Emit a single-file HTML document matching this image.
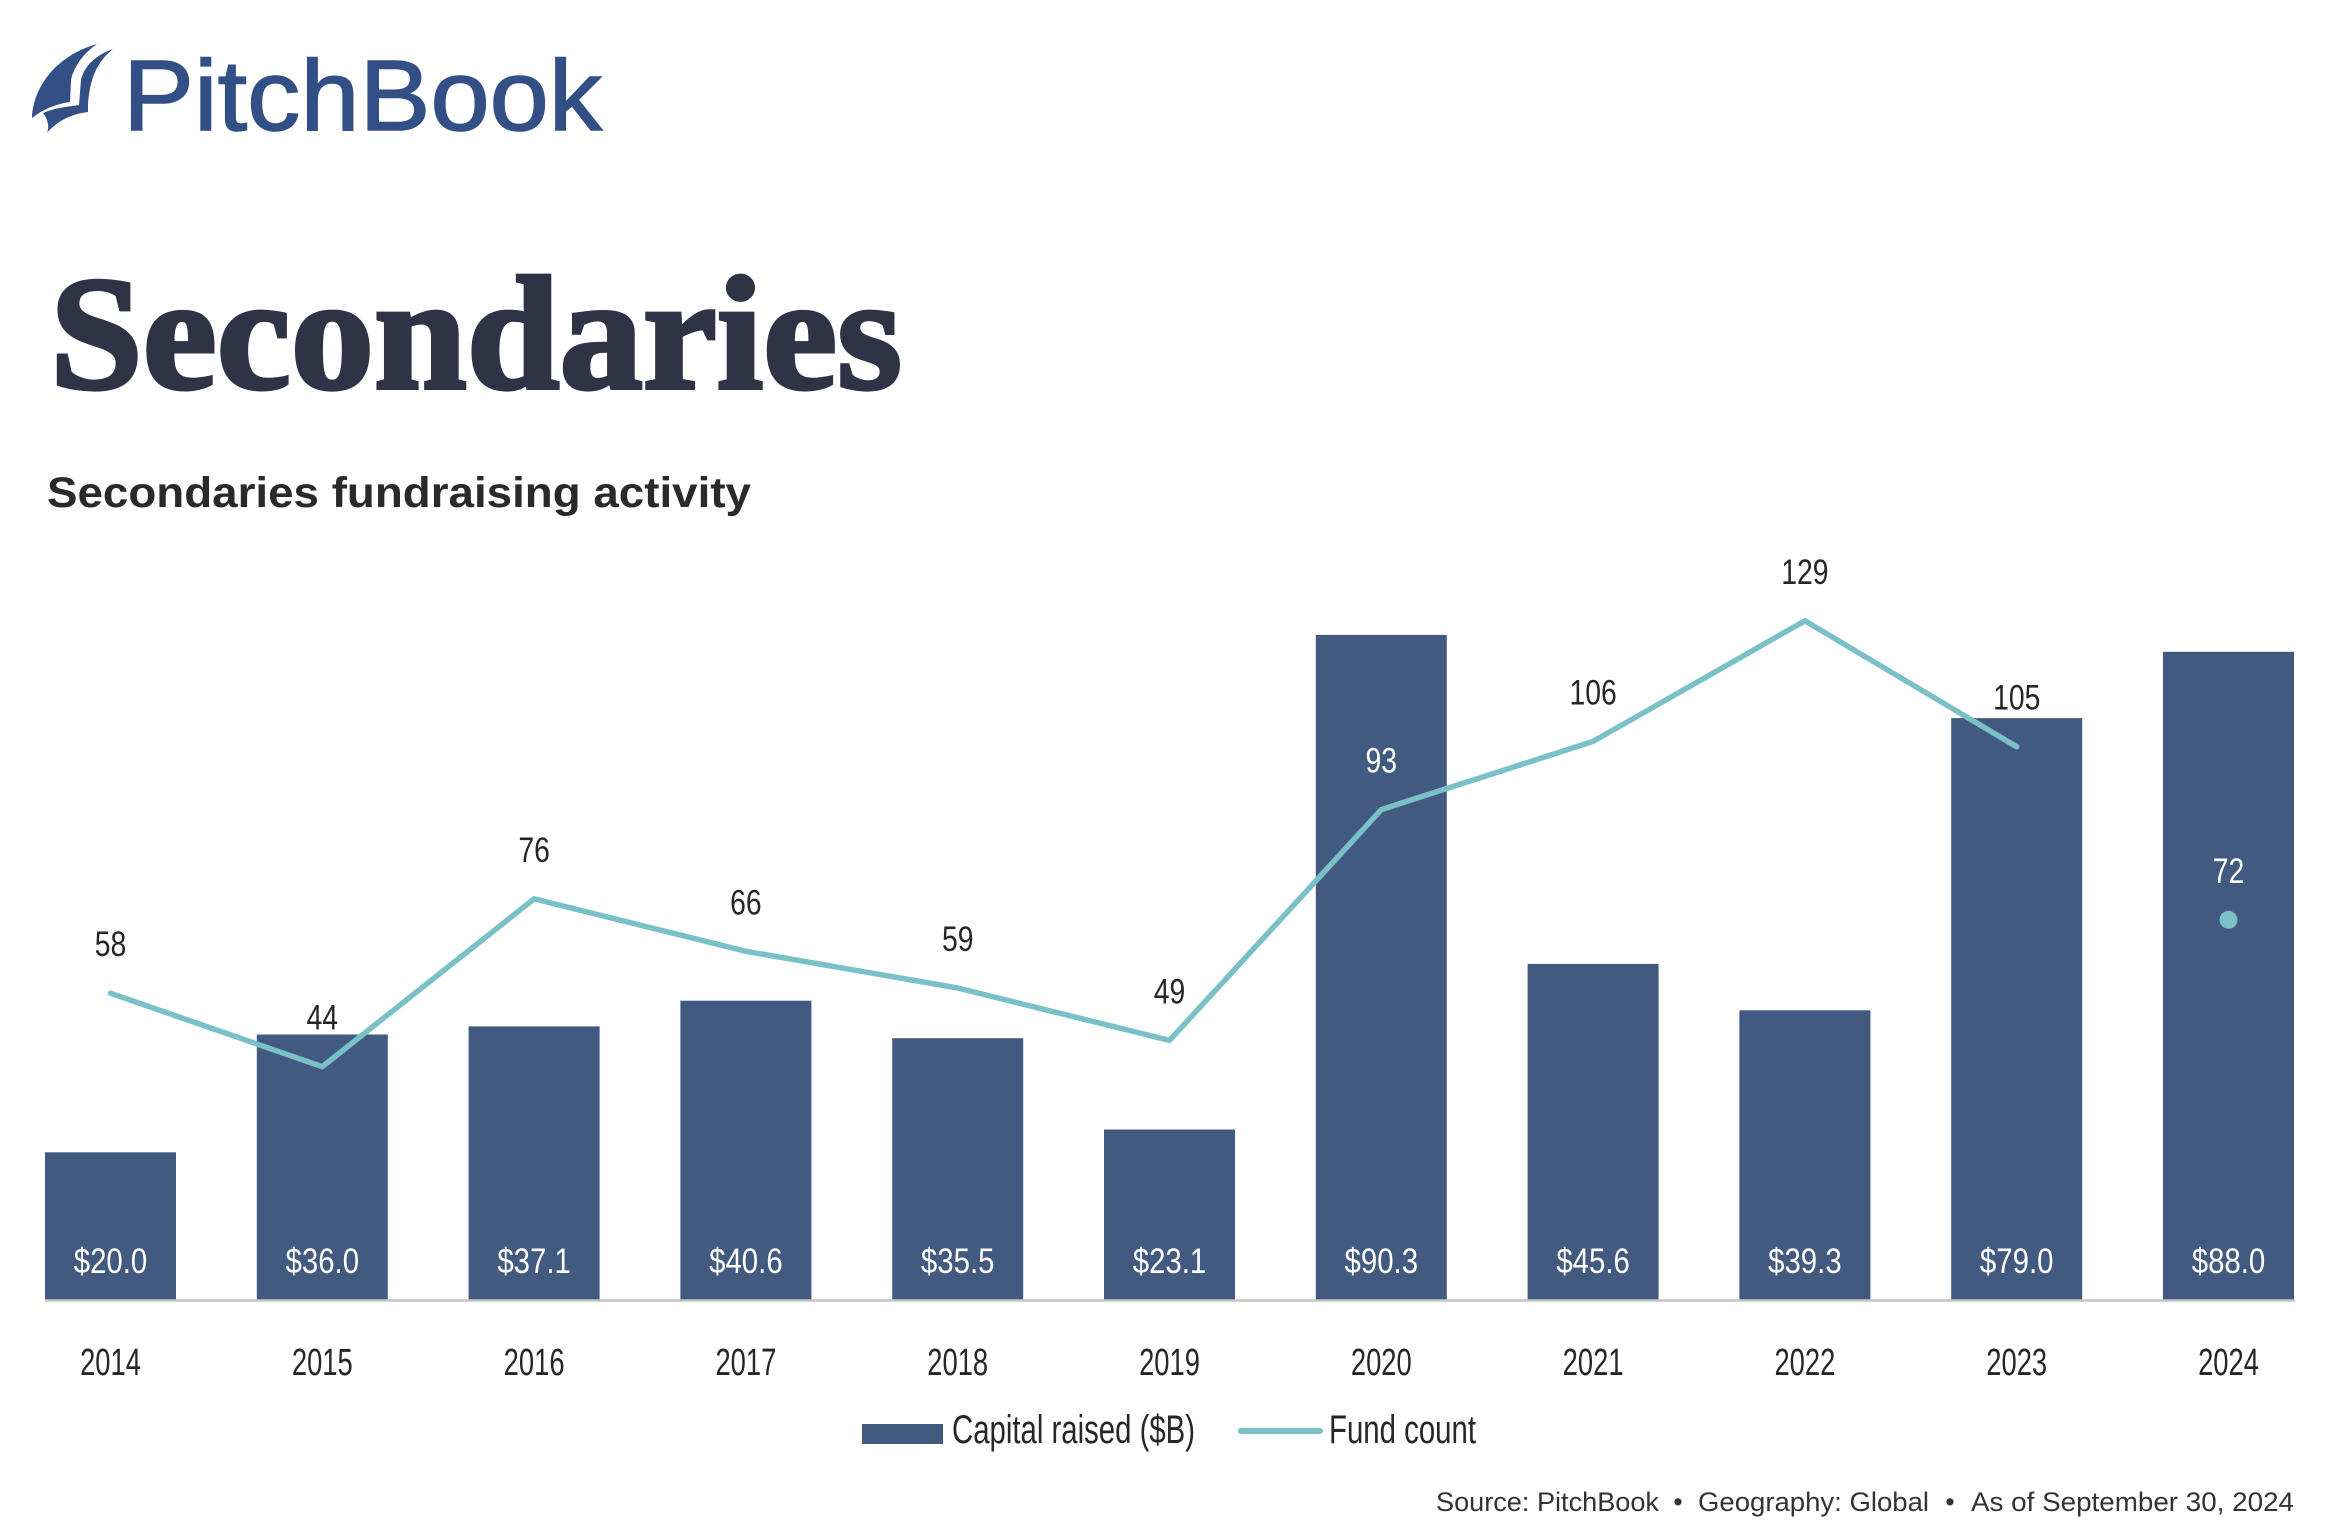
<!DOCTYPE html>
<html>
<head>
<meta charset="utf-8">
<style>
  html,body{margin:0;padding:0;background:#ffffff;}
  body{width:2331px;height:1540px;overflow:hidden;}
  svg{display:block;}
</style>
</head>
<body>
<svg width="2331" height="1540" viewBox="0 0 2331 1540" xmlns="http://www.w3.org/2000/svg">
  <rect x="0" y="0" width="2331" height="1540" fill="#ffffff"/>

  <!-- Logo icon -->
  <g fill="#324F86">
    <path d="M32,118 C33,88 55,56 97,44 C84,53 74,66 71,80 L70,102 C55,104 42,110 32,118 Z"/>
    <path d="M47,133 C50,126 47,118 43,113 C55,108 65,107 79,105 L81,80 C84,66 96,55 113,49 C97,62 90,78 88,104 L88,112 C70,114 56,122 47,133 Z"/>
  </g>
  <!-- Logo text -->
  <text x="123" y="130" font-family="'Liberation Sans', sans-serif" font-size="100" fill="#324F86" stroke="#324F86" stroke-width="1.5" textLength="479" lengthAdjust="spacingAndGlyphs">PitchBook</text>

  <!-- Title -->
  <text x="50" y="388" font-family="'Liberation Serif', serif" font-weight="bold" font-size="162" fill="#2E3346" stroke="#2E3346" stroke-width="4" textLength="852" lengthAdjust="spacingAndGlyphs">Secondaries</text>

  <!-- Subtitle -->
  <text x="47" y="507" font-family="'Liberation Sans', sans-serif" font-weight="bold" font-size="43" fill="#2A2A2A" textLength="704" lengthAdjust="spacingAndGlyphs">Secondaries fundraising activity</text>

  <!-- Bars -->
  <g fill="#435A80">
    <rect x="45.0" y="1152.3" width="131" height="147.2"/>
    <rect x="256.8" y="1034.5" width="131" height="265.0"/>
    <rect x="468.6" y="1026.4" width="131" height="273.1"/>
    <rect x="680.4" y="1000.7" width="131" height="298.8"/>
    <rect x="892.2" y="1038.2" width="131" height="261.3"/>
    <rect x="1104.0" y="1129.5" width="131" height="170.0"/>
    <rect x="1315.8" y="634.9" width="131" height="664.6"/>
    <rect x="1527.6" y="963.9" width="131" height="335.6"/>
    <rect x="1739.4" y="1010.3" width="131" height="289.2"/>
    <rect x="1951.2" y="718.1" width="131" height="581.4"/>
    <rect x="2163.0" y="651.8" width="131" height="647.7"/>
  </g>

  <!-- Axis line -->
  <line x1="45" y1="1300.5" x2="2295" y2="1300.5" stroke="#C6C6C6" stroke-width="2.5"/>

  <!-- Bar value labels -->
  <g font-family="'Liberation Sans', sans-serif" font-size="35" fill="#ffffff" text-anchor="middle">
    <text transform="translate(110.5,1273) scale(0.84,1)">$20.0</text>
    <text transform="translate(322.3,1273) scale(0.84,1)">$36.0</text>
    <text transform="translate(534.1,1273) scale(0.84,1)">$37.1</text>
    <text transform="translate(745.9,1273) scale(0.84,1)">$40.6</text>
    <text transform="translate(957.7,1273) scale(0.84,1)">$35.5</text>
    <text transform="translate(1169.5,1273) scale(0.84,1)">$23.1</text>
    <text transform="translate(1381.3,1273) scale(0.84,1)">$90.3</text>
    <text transform="translate(1593.1,1273) scale(0.84,1)">$45.6</text>
    <text transform="translate(1804.9,1273) scale(0.84,1)">$39.3</text>
    <text transform="translate(2016.7,1273) scale(0.84,1)">$79.0</text>
    <text transform="translate(2228.5,1273) scale(0.84,1)">$88.0</text>
  </g>

  <!-- Fund count line -->
  <polyline fill="none" stroke="#7AC1C7" stroke-width="5.5" stroke-linejoin="round" stroke-linecap="round"
    points="110.5,993.2 322.3,1066.7 534.1,898.8 745.9,951.3 957.7,988.0 1169.5,1040.4 1381.3,809.6 1593.1,741.4 1804.9,620.8 2016.7,746.7"/>
  <circle cx="2228.5" cy="919.8" r="9" fill="#7AC1C7"/>

  <!-- Fund count labels -->
  <g font-family="'Liberation Sans', sans-serif" font-size="35" fill="#262626" text-anchor="middle">
    <text transform="translate(110.5,956.2) scale(0.81,1)">58</text>
    <text transform="translate(322.3,1029.7) scale(0.81,1)">44</text>
    <text transform="translate(534.1,861.8) scale(0.81,1)">76</text>
    <text transform="translate(745.9,914.3) scale(0.81,1)">66</text>
    <text transform="translate(957.7,951.0) scale(0.81,1)">59</text>
    <text transform="translate(1169.5,1003.4) scale(0.81,1)">49</text>
    <text transform="translate(1381.3,772.6) scale(0.81,1)" fill="#ffffff">93</text>
    <text transform="translate(1593.1,704.4) scale(0.81,1)">106</text>
    <text transform="translate(1804.9,583.8) scale(0.81,1)">129</text>
    <text transform="translate(2016.7,709.7) scale(0.81,1)">105</text>
    <text transform="translate(2228.5,882.8) scale(0.81,1)" fill="#ffffff">72</text>
  </g>

  <!-- Year labels -->
  <g font-family="'Liberation Sans', sans-serif" font-size="38" fill="#262626" text-anchor="middle">
    <text transform="translate(110.5,1375) scale(0.72,1)">2014</text>
    <text transform="translate(322.3,1375) scale(0.72,1)">2015</text>
    <text transform="translate(534.1,1375) scale(0.72,1)">2016</text>
    <text transform="translate(745.9,1375) scale(0.72,1)">2017</text>
    <text transform="translate(957.7,1375) scale(0.72,1)">2018</text>
    <text transform="translate(1169.5,1375) scale(0.72,1)">2019</text>
    <text transform="translate(1381.3,1375) scale(0.72,1)">2020</text>
    <text transform="translate(1593.1,1375) scale(0.72,1)">2021</text>
    <text transform="translate(1804.9,1375) scale(0.72,1)">2022</text>
    <text transform="translate(2016.7,1375) scale(0.72,1)">2023</text>
    <text transform="translate(2228.5,1375) scale(0.72,1)">2024</text>
  </g>

  <!-- Legend -->
  <rect x="862" y="1424" width="81" height="20" fill="#435A80"/>
  <text x="952" y="1443" font-family="'Liberation Sans', sans-serif" font-size="40" fill="#262626" textLength="243" lengthAdjust="spacingAndGlyphs">Capital raised ($B)</text>
  <line x1="1241" y1="1431" x2="1320" y2="1431" stroke="#7AC1C7" stroke-width="6" stroke-linecap="round"/>
  <text x="1329" y="1443" font-family="'Liberation Sans', sans-serif" font-size="40" fill="#262626" textLength="147" lengthAdjust="spacingAndGlyphs">Fund count</text>

  <!-- Source -->
  <g font-family="'Liberation Sans', sans-serif" font-size="26.5" fill="#333333">
    <text x="1436" y="1511" textLength="223" lengthAdjust="spacingAndGlyphs">Source: PitchBook</text>
    <text x="1678" y="1511" text-anchor="middle">•</text>
    <text x="1698" y="1511" textLength="231" lengthAdjust="spacingAndGlyphs">Geography: Global</text>
    <text x="1950" y="1511" text-anchor="middle">•</text>
    <text x="1971" y="1511" textLength="323" lengthAdjust="spacingAndGlyphs">As of September 30, 2024</text>
  </g>
</svg>
</body>
</html>
